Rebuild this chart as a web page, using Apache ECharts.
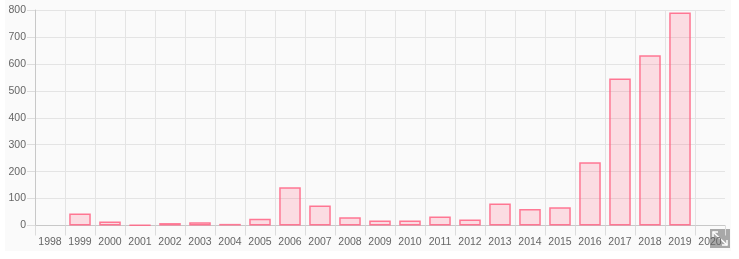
<!DOCTYPE html>
<html>
<head>
<meta charset="utf-8">
<script src="https://cdn.jsdelivr.net/npm/echarts@6/dist/echarts.min.js"></script>
<style>
html,body{margin:0;padding:0;background:#fff;}
#chart{width:739px;height:259px;}
</style>
</head>
<body>
<div id="chart"></div>
<script>
const categories = ['1998','1999','2000','2001','2002','2003','2004','2005','2006','2007','2008','2009','2010','2011','2012','2013','2014','2015','2016','2017','2018','2019','2020'];
const values = [null,45,15,1,9,12,6,25,142,74,31,19,19,33,22,82,61,68,235,546,632,791,null];
const yTicks = [0,100,200,300,400,500,600,700,800];

const chart = echarts.init(document.getElementById('chart'), null, {renderer:'canvas'});
const font = 'Liberation Sans, Arial, sans-serif';
chart.setOption({
  animation:false,
  backgroundColor:'#ffffff',
  graphic:[
    {type:'rect', z:-10, silent:true, shape:{x:5,y:0,width:726,height:251}, style:{fill:'#fafafa'}},
    {type:'group', z:100, children:[
      {type:'rect', shape:{x:710,y:229,width:20,height:19}, style:{fill:'#a8a8a8'}},
      {type:'line', shape:{x1:713,y1:232,x2:727,y2:245}, style:{stroke:'#ffffff', lineWidth:1.5}},
      {type:'polyline', shape:{points:[[713,237],[713,232],[718,232]]}, style:{stroke:'#ffffff', lineWidth:1.5, fill:null}},
      {type:'polyline', shape:{points:[[722,245],[727,245],[727,240]]}, style:{stroke:'#ffffff', lineWidth:1.5, fill:null}}
    ]}
  ],
  grid:{left:35, right:14, top:10, bottom:33.5, containLabel:false},
  xAxis:{
    type:'category',
    data:categories,
    boundaryGap:true,
    axisLine:{show:true, lineStyle:{color:'#c8c8c8', width:1}},
    axisTick:{show:true, length:10, alignWithLabel:false, lineStyle:{color:'#dcdcdc'}},
    axisLabel:{color:'#666', fontSize:10.5, fontFamily:font, margin:11, interval:0},
    splitLine:{show:true, showMaxLine:false, lineStyle:{color:'#e4e4e4'}}
  },
  yAxis:{
    type:'value',
    min:yTicks[0],
    max:yTicks[yTicks.length-1],
    interval:100,
    axisLine:{show:true, lineStyle:{color:'#c8c8c8', width:1}},
    axisTick:{show:true, length:8, lineStyle:{color:'#dcdcdc'}},
    axisLabel:{color:'#666', fontSize:10.5, fontFamily:font, margin:9},
    splitLine:{show:true, lineStyle:{color:'#e4e4e4'}}
  },
  series:[{
    type:'bar',
    data:values,
    barWidth:'72%',
    itemStyle:{color:'rgba(255,99,132,0.2)', borderColor:'rgba(255,99,132,0.85)', borderWidth:1.5}
  }]
});
</script>
</body>
</html>
